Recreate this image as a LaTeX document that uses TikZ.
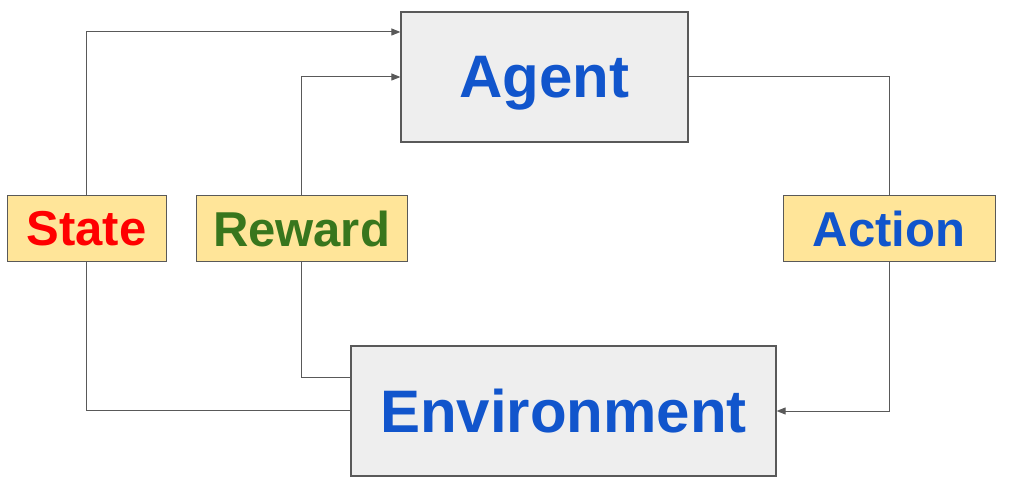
\documentclass[tikz,border=0pt]{standalone}
\usepackage{fontspec}
\setmainfont{Liberation Sans}
\usetikzlibrary{arrows.meta}
\definecolor{boxgray}{HTML}{EEEEEE}
\definecolor{linegray}{HTML}{595959}
\definecolor{labelyellow}{HTML}{FFE599}
\definecolor{agentblue}{HTML}{1155CC}
\definecolor{statered}{HTML}{FF0000}
\definecolor{rewardgreen}{HTML}{38761D}
\tikzset{
  bigbox/.style={draw=linegray, fill=boxgray, line width=1.2pt, inner sep=0pt, text depth=0pt,
    font=\fontsize{60}{60}\selectfont\bfseries, text=agentblue},
  labelbox/.style={draw=linegray, fill=labelyellow, line width=1pt, inner sep=0pt,
    minimum height=66pt, font=\fontsize{49}{49}\selectfont\bfseries},
  link/.style={draw=linegray, line width=1pt},
  arrow/.style={link, -{Triangle[length=9pt,width=7pt]}}
}
\begin{document}
\begin{tikzpicture}[x=1pt,y=-1pt]
    \useasboundingbox (0,0) rectangle (1036,486);
    \node[bigbox, minimum width=287pt, minimum height=130pt] (agent) at (544.5,77) {Agent};
    \node[bigbox, minimum width=425pt, minimum height=130pt] (env) at (563.5,411) {Environment};
    \node[labelbox, minimum width=159pt, text=statered] (state) at (86.5,229) {State};
    \node[labelbox, minimum width=211pt, text=rewardgreen] (reward) at (301.5,229) {Reward};
    \node[labelbox, minimum width=212pt, text=agentblue] (action) at (889,229) {Action};
    % state loop
    \draw[arrow] (state.north -| 86,0) |- (agent.west |- 0,32);
    \draw[link] (state.south -| 86,0) |- (env.west |- 0,410);
    % reward loop
    \draw[arrow] (reward.north) |- (agent.west);
    \draw[link] (reward.south) |- (env.west |- 0,377);
    % action loop
    \draw[link] (agent.east) -| (action.north);
    \draw[arrow] (action.south) |- (env.east);
\end{tikzpicture}
\end{document}
